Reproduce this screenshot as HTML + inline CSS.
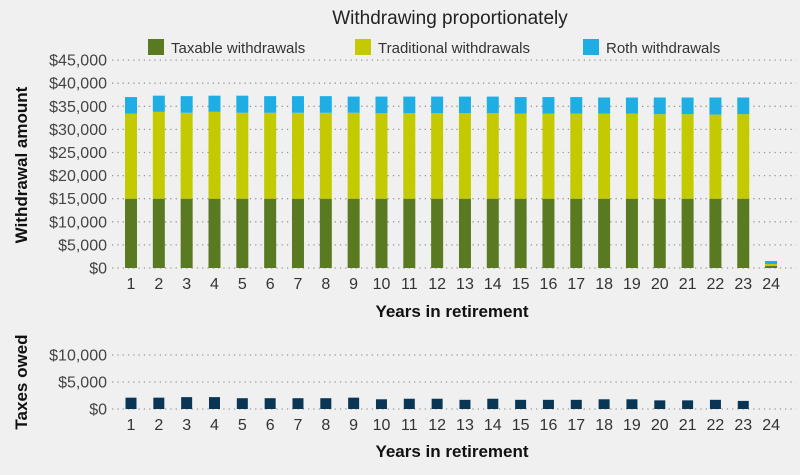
<!DOCTYPE html>
<html><head><style>
body{margin:0;background:#f0f0f0;}
svg{display:block;font-family:"Liberation Sans",sans-serif;}
</style></head><body>
<svg id="s" width="800" height="475" xmlns="http://www.w3.org/2000/svg">
<rect width="800" height="475" fill="#f0f0f0"/>
<text x="450" y="24" font-size="19" text-anchor="middle" fill="#222">Withdrawing proportionately</text>
<rect x="148" y="39" width="16" height="16" fill="#5a7a22"/>
<text x="171" y="53" font-size="15" fill="#333">Taxable withdrawals</text>
<rect x="355" y="39" width="16" height="16" fill="#c3cb00"/>
<text x="378" y="53" font-size="15" fill="#333">Traditional withdrawals</text>
<rect x="583" y="39" width="16" height="16" fill="#1eaee3"/>
<text x="606" y="53" font-size="15" fill="#333">Roth withdrawals</text>
<text transform="translate(27,165) rotate(-90)" font-size="17" font-weight="bold" text-anchor="middle" fill="#111">Withdrawal amount</text>
<text transform="translate(27,382) rotate(-90)" font-size="17" font-weight="bold" text-anchor="middle" fill="#111">Taxes owed</text>
<text x="452" y="317" font-size="17" font-weight="bold" text-anchor="middle" fill="#111">Years in retirement</text>
<text x="452" y="457" font-size="17" font-weight="bold" text-anchor="middle" fill="#111">Years in retirement</text>
<g id="g"></g>
</svg>
<script>
var g=document.getElementById('g'),h='';
function ln(y){h+='<line x1="112" x2="796" y1="'+y+'" y2="'+y+'" stroke="#999" stroke-width="1.3" stroke-dasharray="1.3,4"/>';}
var labs=['$0','$5,000','$10,000','$15,000','$20,000','$25,000','$30,000','$35,000','$40,000','$45,000'];
for(var i=0;i<10;i++){var y=268-i*23.1;ln(y);h+='<text x="107" y="'+(y+5.5)+'" font-size="16" text-anchor="end" fill="#444">'+labs[i]+'</text>';}
for(var i=0;i<3;i++){var y=409-i*27;ln(y);h+='<text x="107" y="'+(y+5.5)+'" font-size="16" text-anchor="end" fill="#444">'+labs[i]+'</text>';}
var k=23.1/5000;
var trad=[33400,33800,33600,33800,33600,33600,33600,33600,33600,33500,33500,33500,33500,33500,33400,33400,33400,33400,33400,33300,33300,33200,33300];
var tot=[37000,37300,37200,37300,37300,37200,37200,37200,37100,37100,37100,37100,37100,37100,37000,37000,37000,36900,36900,36900,36900,36900,36900];
var tax=[2100,2100,2200,2200,2000,2000,2000,2000,2100,1800,1900,1900,1700,1900,1700,1700,1700,1800,1800,1600,1600,1700,1500];
for(var i=0;i<24;i++){
 var cx=131+i*27.83;
 h+='<text x="'+cx+'" y="289" font-size="16" text-anchor="middle" fill="#333">'+(i+1)+'</text>';
 h+='<text x="'+cx+'" y="430" font-size="16" text-anchor="middle" fill="#333">'+(i+1)+'</text>';
 var x=cx-6,w=12;
 if(i<23){
  var y1=268-15000*k,y2=268-trad[i]*k,y3=268-tot[i]*k;
  h+='<rect x="'+x+'" y="'+y1+'" width="'+w+'" height="'+(268-y1)+'" fill="#5a7a22"/>';
  h+='<rect x="'+x+'" y="'+y2+'" width="'+w+'" height="'+(y1-y2)+'" fill="#c3cb00"/>';
  h+='<rect x="'+x+'" y="'+y3+'" width="'+w+'" height="'+(y2-y3)+'" fill="#1eaee3"/>';
  var ty=409-tax[i]*27/5000;
  h+='<rect x="'+(cx-5.5)+'" y="'+ty+'" width="11" height="'+(409-ty)+'" fill="#0a3656"/>';
 } else {
  h+='<rect x="'+x+'" y="266" width="'+w+'" height="2" fill="#5a7a22"/>';
  h+='<rect x="'+x+'" y="264" width="'+w+'" height="2" fill="#c3cb00"/>';
  h+='<rect x="'+x+'" y="261" width="'+w+'" height="3" fill="#1eaee3"/>';
 }
}
g.innerHTML=h;
</script>
</body></html>
